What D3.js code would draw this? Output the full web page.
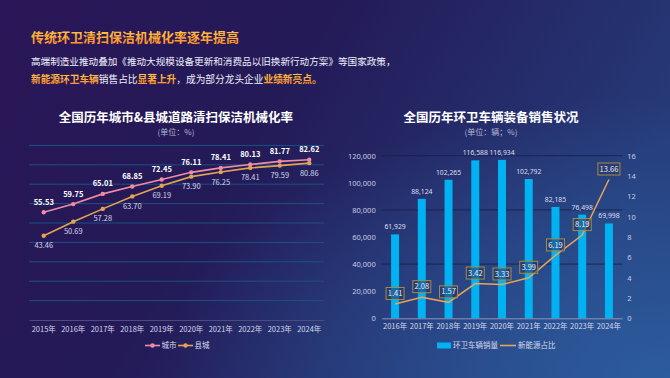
<!DOCTYPE html>
<html>
<head>
<meta charset="utf-8">
<script src="https://cdn.jsdelivr.net/npm/d3@7"></script>
<style>
  html, body { margin: 0; padding: 0; background: #241450; }
  svg { display: block; font-family: "Noto Sans CJK SC", "Noto Sans", sans-serif; }
</style>
</head>
<body>
<div id="chart"></div>
<script>
// ---- data ----
var rateYears = ["2015年", "2016年", "2017年", "2018年", "2019年", "2020年", "2021年", "2022年", "2023年", "2024年"];
var cityRate = [55.53, 59.75, 65.01, 68.85, 72.45, 76.11, 78.41, 80.13, 81.77, 82.62];
var countyRate = [43.46, 50.69, 57.28, 63.70, 69.19, 73.90, 76.25, 78.41, 79.59, 80.86];

var salesYears = ["2016年", "2017年", "2018年", "2019年", "2020年", "2021年", "2022年", "2023年", "2024年"];
var salesVolume = [61929, 88124, 102265, 116588, 116934, 102792, 82185, 76498, 69998];
var newEnergyShare = [1.41, 2.08, 1.57, 3.42, 3.33, 3.99, 6.19, 8.19, 13.66];

var W = 670, H = 378;

var svg = d3.select("#chart").append("svg")
    .attr("width", W)
    .attr("height", H);

var defs = svg.append("defs");

// background
var bg = defs.append("linearGradient").attr("id", "bg")
    .attr("x1", "0").attr("y1", "0").attr("x2", "1").attr("y2", "0.35");
bg.append("stop").attr("offset", "0%").attr("stop-color", "#2a1658");
bg.append("stop").attr("offset", "45%").attr("stop-color", "#241a58");
bg.append("stop").attr("offset", "100%").attr("stop-color", "#263a78");
var glow = defs.append("radialGradient").attr("id", "glow")
    .attr("cx", "1").attr("cy", "1").attr("r", "0.75");
glow.append("stop").attr("offset", "0%").attr("stop-color", "#2c5c9e").attr("stop-opacity", 1);
glow.append("stop").attr("offset", "100%").attr("stop-color", "#2c5c9e").attr("stop-opacity", 0);

var hot = defs.append("linearGradient").attr("id", "hot")
    .attr("x1", "0").attr("y1", "0").attr("x2", "0").attr("y2", "1");
hot.append("stop").attr("offset", "0%").attr("stop-color", "#ffd24a");
hot.append("stop").attr("offset", "100%").attr("stop-color", "#ff8a24");

svg.append("rect").attr("width", W).attr("height", H).attr("fill", "url(#bg)");
svg.append("rect").attr("width", W).attr("height", H).attr("fill", "url(#glow)");

// ---- header ----
svg.append("text")
    .attr("x", 31).attr("y", 41.5)
    .attr("font-size", 13).attr("font-weight", "bold")
    .attr("fill", "url(#hot)")
    .text("传统环卫清扫保洁机械化率逐年提高");

svg.append("text")
    .attr("x", 31).attr("y", 64.5)
    .attr("font-size", 9.6).attr("fill", "#eef0fa")
    .text("高端制造业推动叠加《推动大规模设备更新和消费品以旧换新行动方案》等国家政策，");

var line3 = svg.append("text")
    .attr("x", 31).attr("y", 82.5)
    .attr("font-size", 9.7).attr("fill", "#eef0fa");
[["新能源环卫车辆", true], ["销售占比", false], ["显著上升", true],
 ["，成为部分龙头企业", false], ["业绩新亮点。", true]].forEach(function(p){
    line3.append("tspan")
        .attr("fill", p[1] ? "url(#hot)" : "#eef0fa")
        .attr("font-weight", p[1] ? "bold" : "normal")
        .text(p[0]);
});

// ---- left chart: mechanization rate ----
var left = { x0: 29, x1: 324, y0: 320, yTop: 145.4 };

svg.append("text")
    .attr("x", 176).attr("y", 121.5)
    .attr("text-anchor", "middle")
    .attr("font-size", 12.5).attr("font-weight", "bold").attr("fill", "#ffffff")
    .text("全国历年城市&县城道路清扫保洁机械化率");
svg.append("text")
    .attr("x", 176).attr("y", 134.5)
    .attr("text-anchor", "middle")
    .attr("font-size", 8).attr("fill", "#b4b8d2")
    .text("(单位：%)");

var xL = d3.scaleBand().domain(rateYears).range([left.x0, left.x1]);
var yL = d3.scaleLinear().domain([0, 90]).range([left.y0, left.yTop]);

var gL = svg.append("g");
gL.selectAll(".grid").data(d3.range(10, 91, 10)).enter().append("line")
    .attr("x1", left.x0).attr("x2", left.x1)
    .attr("y1", function(d){ return yL(d); }).attr("y2", function(d){ return yL(d); })
    .attr("stroke", "#1b5282").attr("stroke-width", 1);

var axL = gL.append("g")
    .attr("transform", "translate(0," + left.y0 + ")")
    .call(d3.axisBottom(xL).tickSize(0).tickPadding(7));
axL.select(".domain").attr("stroke", "#4c4c7c");
axL.selectAll("text").attr("font-size", 7.5).attr("fill", "#d6d8ea")
    .attr("font-family", "\"Noto Sans CJK SC\", sans-serif");

var lineL = function(vals){
    return d3.line()
        .x(function(d, i){ return xL(rateYears[i]) + xL.bandwidth() / 2; })
        .y(function(d){ return yL(d); })(vals);
};

var seriesL = [
    { name: "县城", vals: countyRate, color: "#e3a452", above: false },
    { name: "城市", vals: cityRate, color: "#f08ca4", above: true }
];
seriesL.forEach(function(s){
    gL.append("path").attr("d", lineL(s.vals))
        .attr("fill", "none").attr("stroke", s.color).attr("stroke-width", 1.6);
    gL.selectAll(null).data(s.vals).enter().append("circle")
        .attr("cx", function(d, i){ return xL(rateYears[i]) + xL.bandwidth() / 2; })
        .attr("cy", function(d){ return yL(d); })
        .attr("r", 2.2).attr("fill", s.color);
    gL.selectAll(null).data(s.vals).enter().append("text")
        .attr("x", function(d, i){ return xL(rateYears[i]) + xL.bandwidth() / 2; })
        .attr("y", function(d){ return yL(d) + (s.above ? -7.5 : 12.5); })
        .attr("text-anchor", "middle")
        .attr("font-size", 7.5)
        .attr("font-weight", s.above ? "bold" : "normal")
        .attr("fill", s.above ? "#ffffff" : "#d4d6e6")
        .text(function(d){ return d.toFixed(2); });
});

// left legend
var legL = svg.append("g").attr("transform", "translate(145,345.5)");
[["城市", "#f08ca4", 0], ["县城", "#e3a452", 33]].forEach(function(l){
    legL.append("line").attr("x1", l[2]).attr("x2", l[2] + 15)
        .attr("stroke", l[1]).attr("stroke-width", 1.6);
    legL.append("circle").attr("cx", l[2] + 7.5).attr("r", 2.2).attr("fill", l[1]);
    legL.append("text").attr("x", l[2] + 16.5).attr("y", 2.7)
        .attr("font-size", 7.5).attr("fill", "#d6d8ea").text(l[0]);
});

// ---- right chart: vehicle sales ----
var right = { x0: 381.7, x1: 622.3, y0: 318.3, yTop: 155.7 };

svg.append("text")
    .attr("x", 491).attr("y", 121.5)
    .attr("text-anchor", "middle")
    .attr("font-size", 12.5).attr("font-weight", "bold").attr("fill", "#ffffff")
    .text("全国历年环卫车辆装备销售状况");
svg.append("text")
    .attr("x", 491).attr("y", 134.5)
    .attr("text-anchor", "middle")
    .attr("font-size", 8).attr("fill", "#b4b8d2")
    .text("(单位：辆；%)");

var xR = d3.scaleBand().domain(salesYears).range([right.x0, right.x1]);
var yR = d3.scaleLinear().domain([0, 120000]).range([right.y0, right.yTop]);
var yR2 = d3.scaleLinear().domain([0, 16]).range([right.y0, right.yTop]);

var gR = svg.append("g");
gR.selectAll(".grid").data([40000, 80000, 120000]).enter().append("line")
    .attr("x1", right.x0).attr("x2", right.x1)
    .attr("y1", function(d){ return yR(d); }).attr("y2", function(d){ return yR(d); })
    .attr("stroke", "#17204a").attr("stroke-opacity", 0.85).attr("stroke-width", 1);

var axY = gR.append("g")
    .attr("transform", "translate(" + (right.x0 - 5) + ",0)")
    .call(d3.axisLeft(yR).tickValues(d3.range(0, 120001, 20000)).tickFormat(d3.format(",")).tickSize(0).tickPadding(1));
axY.select(".domain").remove();
axY.selectAll("text").attr("font-size", 7.5).attr("fill", "#c8cce2")
    .attr("font-family", "\"Noto Sans\", sans-serif");

var axY2 = gR.append("g")
    .attr("transform", "translate(" + (right.x1 + 4) + ",0)")
    .call(d3.axisRight(yR2).tickValues(d3.range(0, 17, 2)).tickSize(0).tickPadding(1));
axY2.select(".domain").remove();
axY2.selectAll("text").attr("font-size", 7.5).attr("fill", "#c8cce2")
    .attr("font-family", "\"Noto Sans\", sans-serif");

var barW = 8;
gR.selectAll(".bar").data(salesVolume).enter().append("rect")
    .attr("x", function(d, i){ return xR(salesYears[i]) + xR.bandwidth() / 2 - barW / 2; })
    .attr("y", function(d){ return yR(d); })
    .attr("width", barW)
    .attr("height", function(d){ return right.y0 - yR(d); })
    .attr("fill", "#00b2f2");

gR.selectAll(".barlab").data(salesVolume).enter().append("text")
    .attr("x", function(d, i){ return xR(salesYears[i]) + xR.bandwidth() / 2; })
    .attr("y", function(d){ return yR(d) - 5; })
    .attr("text-anchor", "middle")
    .attr("font-size", 6.8).attr("fill", "#dcdfee")
    .attr("font-family", "\"Noto Sans\", sans-serif")
    .text(function(d){ return d3.format(",")(d); });

var axX = gR.append("g")
    .attr("transform", "translate(0," + right.y0 + ")")
    .call(d3.axisBottom(xR).tickSize(0).tickPadding(5));
axX.select(".domain").attr("stroke", "#8c94b8");
axX.selectAll("text").attr("font-size", 7.5).attr("fill", "#d6d8ea")
    .attr("font-family", "\"Noto Sans CJK SC\", sans-serif");

gR.append("path")
    .attr("d", d3.line()
        .x(function(d, i){ return xR(salesYears[i]) + xR.bandwidth() / 2; })
        .y(function(d){ return yR2(d); })(newEnergyShare))
    .attr("fill", "none").attr("stroke", "#e8a458").attr("stroke-width", 1.5);

var boxes = gR.selectAll(".box").data(newEnergyShare).enter().append("g")
    .attr("transform", function(d, i){
        return "translate(" + (xR(salesYears[i]) + xR.bandwidth() / 2) + "," + (yR2(d) - 10.5) + ")";
    });
boxes.append("rect")
    .attr("x", function(d){ return d >= 10 ? -11 : -9; })
    .attr("y", -6)
    .attr("width", function(d){ return d >= 10 ? 22 : 18; })
    .attr("height", 12)
    .attr("fill", "#2a3766").attr("fill-opacity", 0.55)
    .attr("stroke", "#a68e3e").attr("stroke-width", 1);
boxes.append("text")
    .attr("y", 2.6)
    .attr("text-anchor", "middle")
    .attr("font-size", 7.5).attr("fill", "#e8eaf6")
    .text(function(d){ return d.toFixed(2); });

// right legend
var legR = svg.append("g").attr("transform", "translate(437,345.5)");
legR.append("rect").attr("x", 0).attr("y", -3).attr("width", 14).attr("height", 6).attr("fill", "#00b2f2");
legR.append("text").attr("x", 16).attr("y", 2.7).attr("font-size", 7.5).attr("fill", "#d6d8ea").text("环卫车辆销量");
legR.append("line").attr("x1", 63).attr("x2", 79).attr("stroke", "#e8a458").attr("stroke-width", 1.6);
legR.append("text").attr("x", 81).attr("y", 2.7).attr("font-size", 7.5).attr("fill", "#d6d8ea").text("新能源占比");
</script>
</body>
</html>
